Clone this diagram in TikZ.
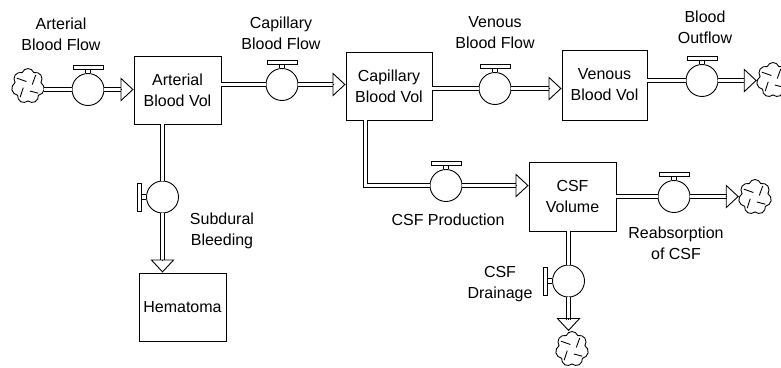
\documentclass[tikz,border=0pt]{standalone}
\usepackage{fontspec}
\setmainfont{Liberation Sans}
\usetikzlibrary{arrows.meta, shapes.symbols, calc}

\begin{document}
\begin{tikzpicture}[
  x=1pt, y=-1pt,
  every node/.style={font=\fontsize{16}{21}\selectfont, align=center},
  stock/.style={draw, line width=0.9pt, minimum width=87pt, minimum height=68pt, inner sep=0pt},
  valve/.style={draw, circle, line width=0.9pt, minimum size=32pt, inner sep=0pt},
  source/.style={draw, cloud, cloud puffs=7, cloud puff arc=140, aspect=1, line width=0.9pt,
                 minimum width=33pt, minimum height=35pt, inner sep=0pt},
  pipe/.style={draw, line width=1pt, double=white, double distance=3.6pt, line join=miter},
  flowhead/.style={-{Triangle[open, length=13pt, width=24pt]}, line width=0.9pt},
]

% Frame: pixel units, y runs down
\useasboundingbox (0,0) rectangle (781,367);

% Stocks
\node[stock] (abv) at (177.5, 90) {Arterial\\Blood Vol};
\node[stock, minimum width=86pt] (cbv) at (389, 86) {Capillary\\Blood Vol};
\node[stock, minimum width=85pt, minimum height=70pt] (vbv) at (604.5, 85) {Venous\\Blood Vol};
\node[stock] (hem) at (182.5, 307) {Hematoma};
\node[stock, minimum height=69pt] (csf) at (572.5, 196.5) {CSF\\Volume};

% Valves
\node[valve] (v1) at (88, 89.5) {};
\node[valve] (v2) at (282, 84.5) {};
\node[valve] (v3) at (495, 88.5) {};
\node[valve] (v4) at (702, 80.5) {};
\node[valve] (v5) at (162.5, 197) {};
\node[valve] (v6) at (446, 185.5) {};
\node[valve] (v7) at (674, 196.5) {};
\node[valve] (v8) at (568.5, 281) {};

% Sources and sinks
\node[source] (c1) at (28, 86) {};
\node[source] (c4) at (773, 80) {};
\node[source] (c7) at (755, 197) {};
\node[source] (c8) at (572, 349) {};

% Arrow bases and bend
\coordinate (h1) at (121, 89.5);
\coordinate (h2) at (333, 84.5);
\coordinate (h3) at (549, 88.5);
\coordinate (h4) at (744, 80.5);
\coordinate (h5) at (162.5, 260);
\coordinate (h6) at (516, 185.5);
\coordinate (h7) at (727, 196.5);
\coordinate (h8) at (568.5, 320);
\coordinate (b6) at (365.5, 185.5);

% Pipes
\draw[pipe] (c1.east |- v1) -- (v1);
\draw[pipe] (v1) -- (h1);
\draw[flowhead] (h1) -- (h1 -| abv.west);

\draw[pipe] (abv.east |- v2) -- (v2);
\draw[pipe] (v2) -- (h2);
\draw[flowhead] (h2) -- (h2 -| cbv.west);

\draw[pipe] (cbv.east |- v3) -- (v3);
\draw[pipe] (v3) -- (h3);
\draw[flowhead] (h3) -- (h3 -| vbv.west);

\draw[pipe] (vbv.east |- v4) -- (v4);
\draw[pipe] (v4) -- (h4);
\draw[flowhead] (h4) -- (h4 -| c4.west);

\draw[pipe] (abv.south -| v5) -- (v5);
\draw[pipe] (v5) -- (h5);
\draw[flowhead] (h5) -- (h5 |- hem.north);

\draw[pipe] (cbv.south -| b6) -- (b6) -- (v6);
\draw[pipe] (v6) -- (h6);
\draw[flowhead] (h6) -- (h6 -| csf.west);

\draw[pipe] (csf.east |- v7) -- (v7);
\draw[pipe] (v7) -- (h7);
\draw[flowhead] (h7) -- (h7 -| c7.west);

\draw[pipe] (csf.south -| v8) -- (v8);
\draw[pipe] (v8) -- (h8);
\draw[flowhead] (h8) -- (h8 |- c8.north);

% Valve handles
\foreach \v in {v1,v2,v3,v4,v6,v7}
  \draw[line width=0.9pt] (\v.north) ++(-2.5,0) -- ++(0,-4) ++(5,0) -- ++(0,4)
        (\v.north) ++(-15,-4) rectangle ++(30,-3.5);
\foreach \v in {v5,v8}
  \draw[line width=0.9pt] (\v.west) ++(0,-2.5) -- ++(-5,0) ++(0,5) -- ++(5,0)
        (\v.west) ++(-5,-14) rectangle ++(-3.5,28);

% Cloud curls
\foreach \c in {c1,c4,c7,c8}
  \foreach \a/\b in {20/55, 110/145, 200/235, 290/325}
    \draw[line width=0.9pt] ($(\c.center)!0.3!(\c.\a)$) -- ($(\c.center)!0.8!(\c.\b)$);

% Labels
\node (tafl) at (61, 34) {Arterial\\Blood Flow};
\node (tcfl) at (281, 33) {Capillary\\Blood Flow};
\node (tvfl) at (495, 33) {Venous\\Blood Flow};
\node (tout) at (705, 27) {Blood\\Outflow};
\node (tsub) at (222, 231) {Subdural\\Bleeding};
\node (tprod) at (448, 220) {CSF Production};
\node (treab) at (676, 243) {Reabsorption\\of CSF};
\node (tdrain) at (500, 284) {CSF\\Drainage};

\end{tikzpicture}
\end{document}
